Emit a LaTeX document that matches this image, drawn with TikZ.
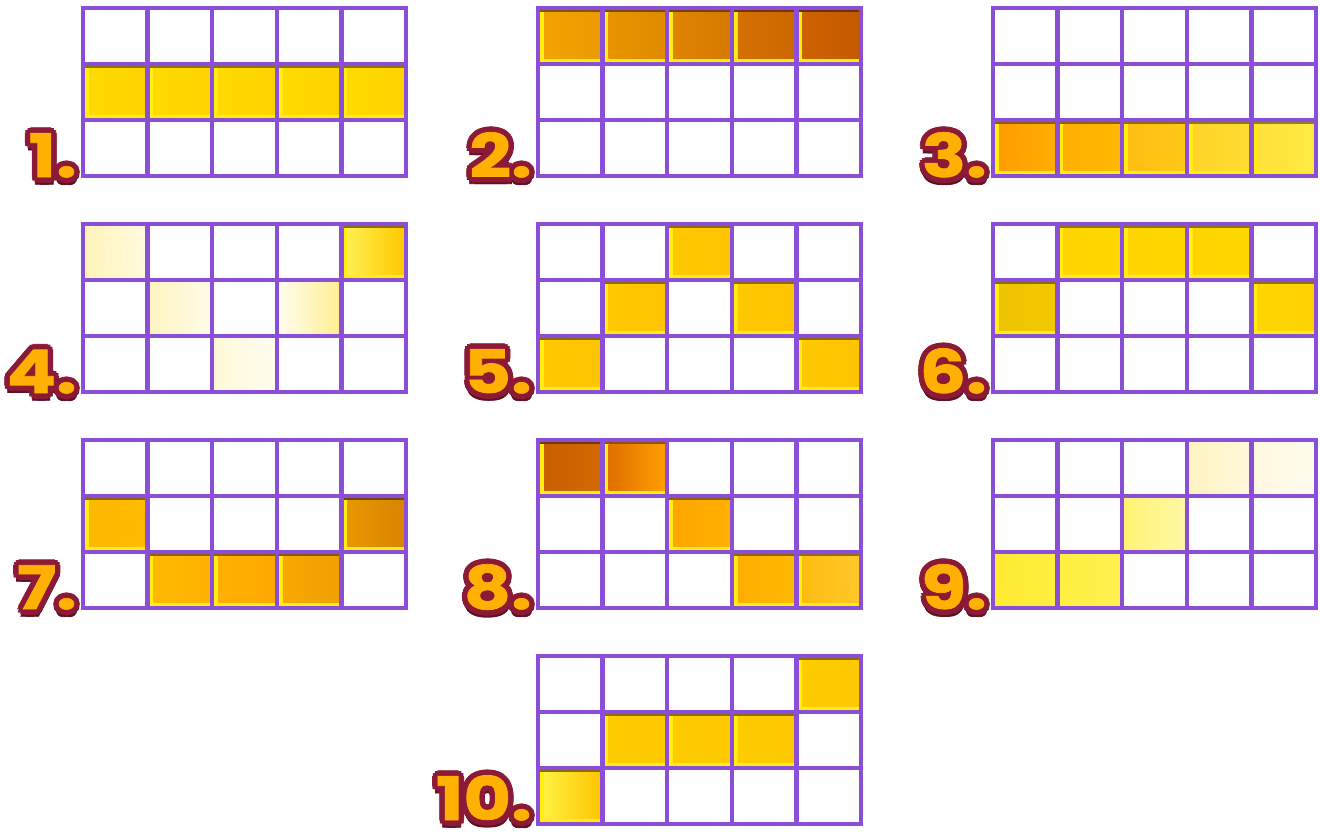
\documentclass[tikz,border=0pt]{standalone}
\usepackage{fontspec}
\newfontfamily\numfont{Poppins}[FakeStretch=1.22, FakeBold=1.2]
\usetikzlibrary{positioning}
\definecolor{gridpurple}{HTML}{8A4FD6}
\definecolor{numred}{HTML}{8C1A36}
\definecolor{numshadow}{HTML}{5E1024}
\definecolor{numorange}{HTML}{FFB000}
\definecolor{bevelyellow}{HTML}{FFEE10}

\tikzset{
  gridline/.style={gridpurple, line width=4.5pt},
  numlabel/.style={font=\numfont\bfseries\fontsize{60}{60}\selectfont, inner sep=0pt, anchor=base east},
}

% one 5x3 board, lines only (cells are filled before)
\newcommand{\gridbox}[2]{%
  \begin{scope}[shift={(#1,#2)}]
    \foreach \c in {1,...,4} \draw[gridline] (\c*64.6,0) -- (\c*64.6,168);
    \foreach \r in {1,2} \draw[gridline] (0,\r*56) -- (323,\r*56);
    \draw[gridline] (0,0) rectangle (323,168);
  \end{scope}}

% lit cell with a bevel: board x, board y, column, row, left colour, right colour
\newcommand{\litcell}[6]{%
  \definecolor{cellL}{HTML}{#5}\definecolor{cellR}{HTML}{#6}%
  \begin{scope}[shift={(#1,#2)}]
    \fill[bevelyellow] ({(#3-1)*64.6},{(#4-1)*56}) rectangle ({#3*64.6},{#4*56});
    \shade[left color=cellL, right color=cellR] ({(#3-1)*64.6+6},{(#4-1)*56+4}) rectangle ({#3*64.6-2},{#4*56-6});
    \draw[cellR!55!black, line width=2pt] ({(#3-1)*64.6+2},{(#4-1)*56+3}) -- ({#3*64.6-2},{(#4-1)*56+3});
  \end{scope}}

% pale cell, no bevel
\newcommand{\palecell}[6]{%
  \definecolor{cellL}{HTML}{#5}\definecolor{cellR}{HTML}{#6}%
  \begin{scope}[shift={(#1,#2)}]
    \shade[left color=cellL, right color=cellR] ({(#3-1)*64.6},{(#4-1)*56}) rectangle ({#3*64.6},{#4*56});
  \end{scope}}

% bubbly number under the left corner
\newcommand{\paynum}[4]{%
  \foreach \a in {0,60,...,300}
    \node[numlabel, numshadow, shift={(\a:5)}, yshift=-3pt] at (#2,#3) {#4};
  \foreach \a in {0,30,...,330}
    \node[numlabel, numred, shift={(\a:5.5)}] at (#2,#3) {#4};
  \node[numlabel, numorange] (#1) at (#2,#3) {#4};}

\begin{document}
\begin{tikzpicture}[x=1pt, y=-1pt]
  \fill[white] (0,0) rectangle (1320,835);
  \useasboundingbox (0,0) rectangle (1320,835);

  % 1
  \foreach \c in {1,...,5} {\litcell{83}{8}{\c}{2}{FFDA00}{FFD300}}
  \gridbox{83}{8}
  % 2
  \litcell{538}{8}{1}{1}{F2A300}{EC9A00}
  \litcell{538}{8}{2}{1}{E89400}{E08A00}
  \litcell{538}{8}{3}{1}{DE8400}{D67A00}
  \litcell{538}{8}{4}{1}{D47000}{CC6800}
  \litcell{538}{8}{5}{1}{CC6200}{C45A00}
  \gridbox{538}{8}
  % 3
  \litcell{993}{8}{1}{3}{FF9C00}{FFAE00}
  \litcell{993}{8}{2}{3}{FFAF00}{FFB800}
  \litcell{993}{8}{3}{3}{FFBE10}{FFC818}
  \litcell{993}{8}{4}{3}{FFD428}{FFDC30}
  \litcell{993}{8}{5}{3}{FFE238}{FFEA44}
  \gridbox{993}{8}
  % 4
  \palecell{83}{224}{1}{1}{FFF3B8}{FFFBE0}
  \litcell{83}{224}{5}{1}{FFEE50}{FFC800}
  \palecell{83}{224}{2}{2}{FFF3C0}{FFFCE8}
  \palecell{83}{224}{4}{2}{FFFDF0}{FFEE90}
  \palecell{83}{224}{3}{3}{FFF8D8}{FFFDF0}
  \gridbox{83}{224}
  % 5
  \litcell{538}{224}{3}{1}{FFC800}{FFC400}
  \litcell{538}{224}{2}{2}{FFC800}{FFC400}
  \litcell{538}{224}{4}{2}{FFC800}{FFC400}
  \litcell{538}{224}{1}{3}{FFC800}{FFC400}
  \litcell{538}{224}{5}{3}{FFC800}{FFC400}
  \gridbox{538}{224}
  % 6
  \foreach \c in {2,3,4} {\litcell{993}{224}{\c}{1}{FFD400}{FFD800}}
  \litcell{993}{224}{1}{2}{EEC400}{F2C800}
  \litcell{993}{224}{5}{2}{FFD600}{FFD200}
  \gridbox{993}{224}
  % 7
  \litcell{83}{440}{1}{2}{FFB800}{FFBC00}
  \litcell{83}{440}{5}{2}{E89800}{D88400}
  \litcell{83}{440}{2}{3}{FFBA00}{FFB000}
  \litcell{83}{440}{3}{3}{FFB000}{FFA800}
  \litcell{83}{440}{4}{3}{F8A800}{F0A000}
  \gridbox{83}{440}
  % 8
  \litcell{538}{440}{1}{1}{C86000}{D06A00}
  \litcell{538}{440}{2}{1}{E07000}{FF9E00}
  \litcell{538}{440}{3}{2}{FFA600}{FFB000}
  \litcell{538}{440}{4}{3}{FFAE00}{FFB800}
  \litcell{538}{440}{5}{3}{FFBC10}{FFC828}
  \gridbox{538}{440}
  % 9
  \palecell{993}{440}{4}{1}{FFF3C0}{FFF8DC}
  \palecell{993}{440}{5}{1}{FFF8E0}{FFFBEE}
  \palecell{993}{440}{3}{2}{FFF270}{FFF8A8}
  \palecell{993}{440}{1}{3}{FFEA30}{FFEE40}
  \palecell{993}{440}{2}{3}{FFF040}{FFF050}
  \gridbox{993}{440}
  % 10
  \litcell{538}{656}{5}{1}{FFCC00}{FFC800}
  \foreach \c in {2,3,4} {\litcell{538}{656}{\c}{2}{FFCC00}{FFC800}}
  \litcell{538}{656}{1}{3}{FFF040}{FFC400}
  \gridbox{538}{656}

  % numbers
  \paynum{n1}{77}{177}{1.}
  \paynum{n2}{532}{177}{2.}
  \paynum{n3}{987}{177}{3.}
  \paynum{n4}{77}{393}{4.}
  \paynum{n5}{532}{393}{5.}
  \paynum{n6}{987}{393}{6.}
  \paynum{n7}{77}{609}{7.}
  \paynum{n8}{532}{609}{8.}
  \paynum{n9}{987}{609}{9.}
  \paynum{n10}{532}{820}{10.}
\end{tikzpicture}
\end{document}
